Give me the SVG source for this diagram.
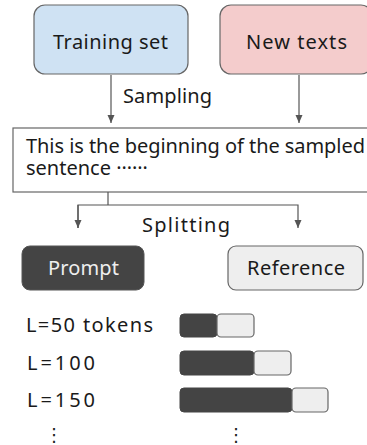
<svg xmlns="http://www.w3.org/2000/svg" width="367" height="445" viewBox="0 0 367 445">
<defs>
<marker id="ah" viewBox="0 0 8 10" refX="8" refY="5" markerWidth="8" markerHeight="10" markerUnits="userSpaceOnUse" orient="auto">
<path d="M0,1.5 L8,5 L0,8.5 z" fill="#555"/>
</marker>
</defs>
<style>
text{font-family:"Noto Sans","DejaVu Sans",sans-serif;font-size:20px;fill:#1a1a1a}
.ln{stroke:#555;stroke-width:1.2;fill:none}
.box{stroke:#666;stroke-width:1.2}
.dk{fill:#444;stroke:#444;stroke-width:1}
.lt{fill:#eeeeee;stroke:#666;stroke-width:1.2}
.dots{font-family:"DejaVu Sans",sans-serif;font-size:18px;text-anchor:middle}
</style>
<rect width="367" height="445" fill="#fff"/>
<g id="training">
<rect class="box" x="34" y="5" width="154" height="69" rx="11" fill="#cfe2f3"/>
<text x="53" y="49" textLength="115" lengthAdjust="spacing">Training set</text>
</g>
<g id="newtexts">
<rect class="box" x="220" y="5" width="152" height="69" rx="11" fill="#f4cccc"/>
<text x="246" y="49" textLength="101" lengthAdjust="spacing">New texts</text>
</g>
<g id="sentence">
<rect class="box" x="13" y="128" width="370" height="64" fill="#fff"/>
<text x="26" y="153" textLength="339" lengthAdjust="spacing">This is the beginning of the sampled</text>
<text x="26" y="175">sentence <tspan dy="-6">……</tspan></text>
</g>
<g id="prompt">
<rect x="22" y="246" width="122" height="44" rx="8" fill="#444" stroke="#555"/>
<text x="48" y="275" textLength="71" lengthAdjust="spacing" style="fill:#eeeeee">Prompt</text>
</g>
<g id="reference">
<rect class="lt" x="228" y="246" width="135" height="44" rx="8"/>
<text x="247" y="275" textLength="98" lengthAdjust="spacing">Reference</text>
</g>
<g id="connectors">
<line class="ln" x1="111" y1="75" x2="111" y2="123" marker-end="url(#ah)"/>
<line class="ln" x1="299" y1="75" x2="299" y2="123" marker-end="url(#ah)"/>
<polyline class="ln" points="108,192 108,205"/>
<polyline class="ln" points="78,228 78,205 298,205 298,228" marker-end="url(#ah)"/>
<line class="ln" x1="78" y1="205" x2="78" y2="228" marker-end="url(#ah)"/>
</g>
<g id="labels">
<text x="123" y="103" textLength="89" lengthAdjust="spacing">Sampling</text>
<text x="142" y="232" textLength="88" lengthAdjust="spacing">Splitting</text>
</g>
<g id="lengths">
<text x="26" y="332" textLength="127" lengthAdjust="spacing">L=50 tokens</text>
<rect class="dk" x="180" y="314" width="37" height="23" rx="4"/>
<rect class="lt" x="217" y="314" width="37" height="23" rx="4"/>
<text x="27" y="370" textLength="68" lengthAdjust="spacing">L=100</text>
<rect class="dk" x="180" y="351" width="74" height="24" rx="4"/>
<rect class="lt" x="254" y="351" width="37" height="24" rx="4"/>
<text x="27" y="407" textLength="68" lengthAdjust="spacing">L=150</text>
<rect class="dk" x="180" y="388" width="112" height="24" rx="4"/>
<rect class="lt" x="292" y="388" width="36" height="24" rx="4"/>
<text class="dots" x="54" y="441">⋮</text>
<text class="dots" x="236" y="441">⋮</text>
</g>
</svg>
